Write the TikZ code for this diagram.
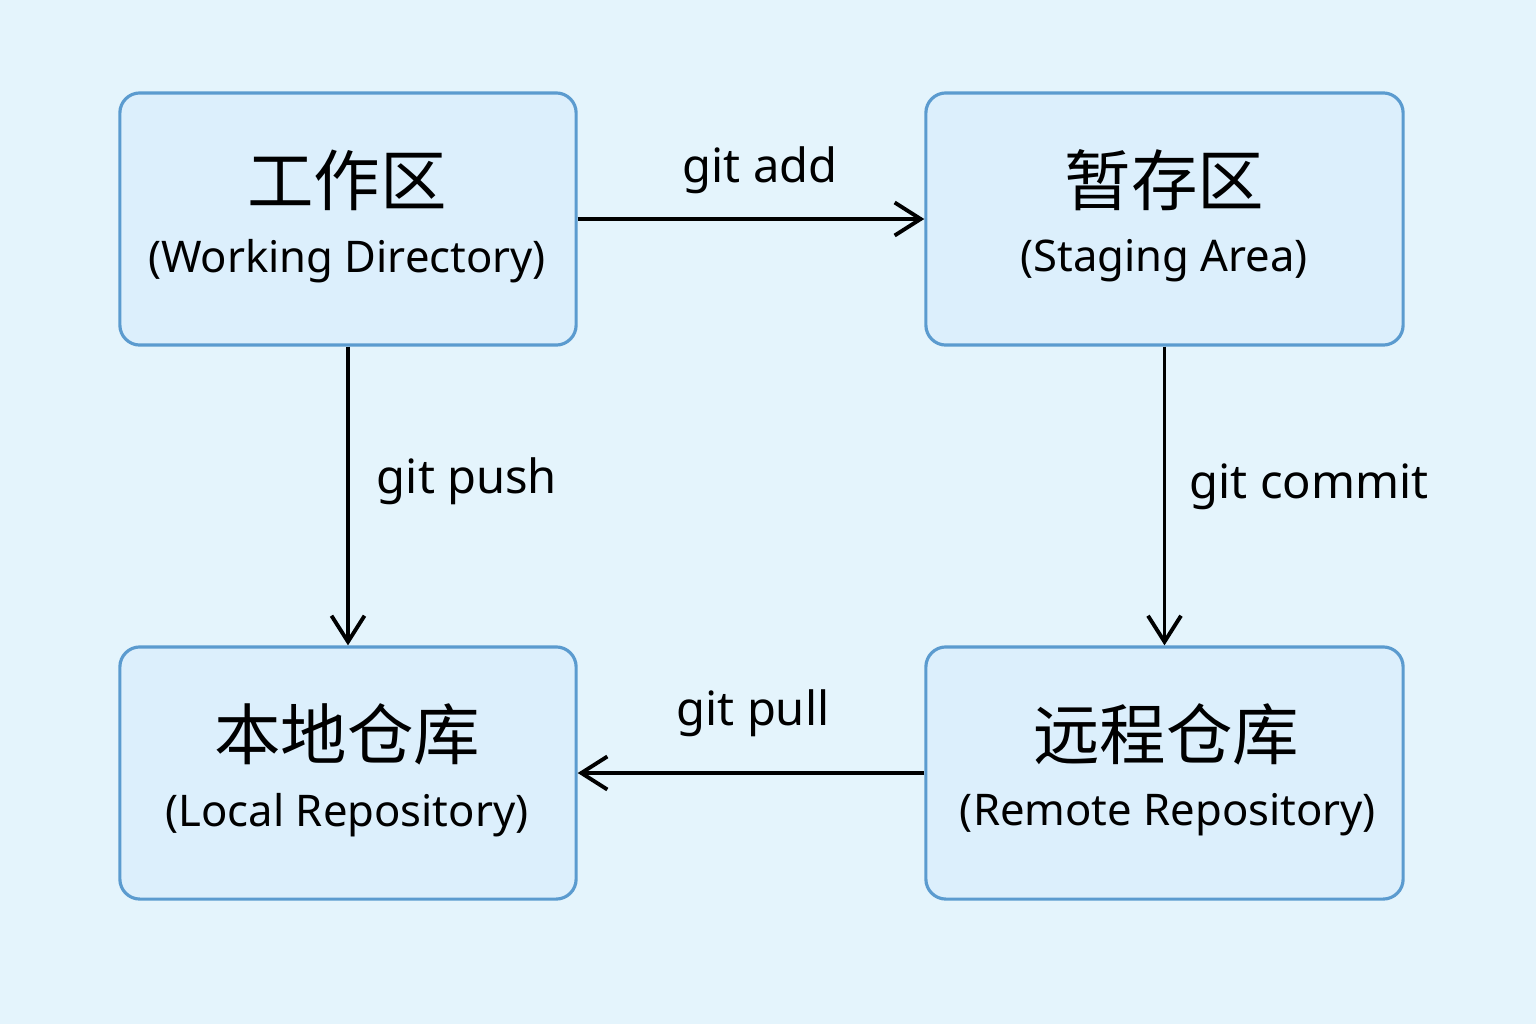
\documentclass[tikz,border=0pt]{standalone}
\usepackage{fontspec}
\setmainfont{Noto Sans}
\newfontfamily\cjk{Noto Sans CJK SC}
\usetikzlibrary{arrows.meta}
\definecolor{bgc}{HTML}{E4F4FC}
\definecolor{boxfill}{HTML}{DCEFFC}
\definecolor{boxline}{HTML}{5B9BCF}
\tikzset{
  area/.style={draw=boxline, line width=0.9pt, fill=boxfill, rounded corners=0.2cm, minimum width=4.56cm, minimum height=2.52cm, align=center, inner sep=0pt},
  cn/.style={font=\cjk\fontsize{18.9}{22}\selectfont},
  en/.style={font=\fontsize{12.4}{14}\selectfont, inner sep=0pt},
  flow/.style={line width=1.1pt, -{Straight Barb[length=0.26cm, width=0.33cm, line width=1.1pt]}},
  lab/.style={font=\fontsize{13.4}{15}\selectfont, inner sep=0pt}
}
\begin{document}
\begin{tikzpicture}[x=0.01cm,y=-0.01cm]
\fill[bgc] (0,0) rectangle (1536,1024);
\useasboundingbox (0,0) rectangle (1536,1024);
\node[area] (wd) at (348,219) {};
\node[area, minimum width=4.77cm] (sa) at (1164.5,219) {};
\node[area] (lr) at (348,773) {};
\node[area, minimum width=4.77cm] (rr) at (1164.5,773) {};
\node[cn] at (347,180) {工作区};
\node[en] at (347,261) {(Working Directory)};
\node[cn] at (1164.5,180) {暂存区};
\node[en] at (1164,261) {(Staging Area)};
\node[cn] at (347,734) {本地仓库};
\node[en] at (347,815) {(Local Repository)};
\node[cn] at (1166,734) {远程仓库};
\node[en] at (1168,815) {(Remote Repository)};
\draw[flow] (wd.east) -- (sa.west);
\draw[flow] (wd.south) -- (lr.north);
\draw[flow] (sa.south) -- (rr.north);
\draw[flow] (rr.west) -- (lr.east);
\node[lab] at (760,170) {git add};
\node[lab] at (467,481) {git push};
\node[lab] at (1309,487) {git commit};
\node[lab] at (753,713) {git pull};
\end{tikzpicture}
\end{document}
